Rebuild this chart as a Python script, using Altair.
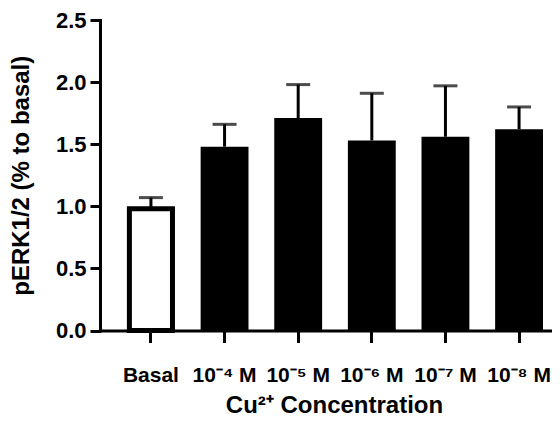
import altair as alt
import pandas as pd

categories = ["Basal", "10⁻⁴ M", "10⁻⁵ M", "10⁻⁶ M", "10⁻⁷ M", "10⁻⁸ M"]
groups = ["basal", "treated", "treated", "treated", "treated", "treated"]
means = [0.98, 1.48, 1.71, 1.53, 1.56, 1.62]
errors = [0.09, 0.18, 0.27, 0.38, 0.41, 0.18]
y_ticks = [0.0, 0.5, 1.0, 1.5, 2.0, 2.5]

df = pd.DataFrame({
    "cat": categories,
    "group": groups,
    "mean": means,
    "upper": [m + e for m, e in zip(means, errors)],
})

FONT = "Liberation Sans"

x_enc = alt.X(
    "cat:N",
    sort=categories,
    scale=alt.Scale(paddingInner=0.35, paddingOuter=0.2445, align=0.75),
    axis=alt.Axis(
        title="Cu²⁺ Concentration",
        labelAngle=0,
        tickSize=12,
        labelPadding=22,
        titlePadding=8,
        titleX=234,
        labelFontSize=21,
    ),
)
y_scale = alt.Scale(domain=[0, 2.5], nice=False, zero=True)
y_axis = alt.Axis(
    title="pERK1/2 (% to basal)",
    values=y_ticks,
    format=".1f",
    tickSize=10,
    labelPadding=4,
    titlePadding=22,
    labelFontSize=22,
)

base = alt.Chart(df)

err_rule = base.mark_rule(color="black", strokeWidth=3).encode(
    x=x_enc,
    y=alt.Y("mean:Q", scale=y_scale, axis=y_axis),
    y2="upper:Q",
)
err_cap = base.mark_tick(color="black", thickness=3, size=24, orient="horizontal").encode(
    x=x_enc,
    y=alt.Y("upper:Q", scale=y_scale),
)
black_bars = base.transform_filter(alt.datum.group == "treated").mark_bar(
    color="black"
).encode(
    x=x_enc,
    y=alt.Y("mean:Q", scale=y_scale),
)
basal_bar = base.transform_filter(alt.datum.group == "basal").mark_bar(
    fill="white", stroke="black", strokeWidth=5, width=alt.RelativeBandSize(0.9)
).encode(
    x=x_enc,
    y=alt.Y("mean:Q", scale=y_scale),
)

chart = (
    alt.layer(err_rule, err_cap, black_bars, basal_bar)
    .properties(
        width=452,
        height=310.5,
        autosize=alt.AutoSizeParams(type="none"),
        padding={"left": 92, "top": 12, "right": 0, "bottom": 87.5},
    )
    .configure_view(stroke=None)
    .configure_axis(
        grid=False,
        domainColor="black",
        domainWidth=3,
        domainCap="square",
        tickColor="black",
        tickWidth=3,
        labelFont=FONT,
        labelFontWeight="bold",
        labelColor="black",
        titleFont=FONT,
        titleFontSize=24,
        titleFontWeight="bold",
        titleColor="black",
    )
)

chart.save("out.html", embed_options={"renderer": "svg", "actions": False})
